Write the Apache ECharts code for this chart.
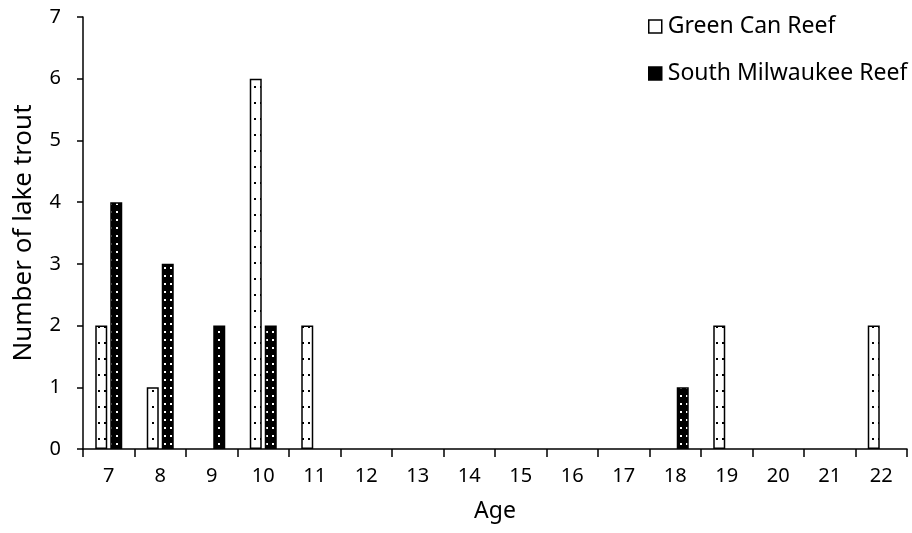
<!DOCTYPE html>
<html>
<head>
<meta charset="utf-8">
<script src="https://cdn.jsdelivr.net/npm/echarts@6/dist/echarts.min.js"></script>
<style>
  html, body { margin: 0; padding: 0; background: #fff; }
  #chart { width: 912px; height: 533px; }
</style>
</head>
<body>
<div id="chart"></div>
<script>
// Lake trout counts by age at two reefs
const ages = ['7', '8', '9', '10', '11', '12', '13', '14', '15', '16', '17', '18', '19', '20', '21', '22'];
const greenCan = [2, 1, 0, 6, 2, 0, 0, 0, 0, 0, 0, 0, 2, 0, 0, 2];
const southMilwaukee = [4, 3, 2, 2, 0, 0, 0, 0, 0, 0, 0, 1, 0, 0, 0, 0];
const seriesNames = ['Green Can Reef', 'South Milwaukee Reef'];

// Empty ages get no bar outline on the baseline
const asBars = arr => arr.map(v => (v === 0 ? '-' : v));

// Dotted fill patterns for the bars
function dotPattern(bg, dot, w, h, dx, dy) {
  const c = document.createElement('canvas');
  c.width = w; c.height = h;
  const ctx = c.getContext('2d');
  ctx.fillStyle = bg;
  ctx.fillRect(0, 0, w, h);
  ctx.fillStyle = dot;
  ctx.fillRect(dx, dy, 2, 2);
  return c;
}
const lightFill = { image: dotPattern('#ffffff', '#000000', 6, 16, 2, 6), repeat: 'repeat' };
const darkFill = { image: dotPattern('#000000', '#ffffff', 6, 8, 2, 3), repeat: 'repeat' };

const font = '"Noto Sans", "Open Sans", sans-serif';
const chart = echarts.init(document.getElementById('chart'), null, { renderer: 'canvas' });

chart.setOption({
  animation: false,
  backgroundColor: '#ffffff',
  textStyle: { fontFamily: font, color: '#000' },
  grid: { left: 83, right: 5, top: 17, bottom: 84, containLabel: false },
  legend: {
    orient: 'vertical',
    left: 648,
    top: 15,
    padding: 0,
    itemGap: 24,
    itemWidth: 13,
    itemHeight: 13,
    icon: 'rect',
    textStyle: { fontFamily: font, fontSize: 23, color: '#000', padding: [0, 0, 0, 1] },
    data: [
      { name: seriesNames[0], itemStyle: { color: '#fff', borderColor: '#000', borderWidth: 1.5 } },
      { name: seriesNames[1], itemStyle: { color: '#000', borderColor: '#000', borderWidth: 1.5 } }
    ]
  },
  xAxis: {
    type: 'category',
    data: ages,
    name: 'Age',
    nameLocation: 'middle',
    nameGap: 51,
    nameTextStyle: { fontFamily: font, fontSize: 23, color: '#000' },
    axisLine: { lineStyle: { color: '#000', width: 1.5 } },
    axisTick: { show: true, inside: false, length: 8, alignWithLabel: false, lineStyle: { color: '#000', width: 1.5 } },
    axisLabel: { fontFamily: font, fontSize: 20, color: '#000', margin: 17 },
    splitLine: { show: false }
  },
  yAxis: {
    type: 'value',
    min: 0,
    max: 7,
    interval: 1,
    name: 'Number of lake trout',
    nameLocation: 'middle',
    nameGap: 46,
    nameTextStyle: { fontFamily: font, fontSize: 26, color: '#000' },
    axisLine: { show: true, lineStyle: { color: '#000', width: 1.5 } },
    axisTick: { show: true, inside: false, length: 6, lineStyle: { color: '#000', width: 1.5 } },
    axisLabel: { fontFamily: font, fontSize: 20, color: '#000', margin: 22 },
    splitLine: { show: false }
  },
  series: [
    {
      name: seriesNames[0],
      type: 'bar',
      data: asBars(greenCan),
      barWidth: 12,
      barGap: '25%',
      itemStyle: { color: lightFill, borderColor: '#000', borderWidth: 1.5 }
    },
    {
      name: seriesNames[1],
      type: 'bar',
      data: asBars(southMilwaukee),
      barWidth: 12,
      barGap: '25%',
      itemStyle: { color: darkFill, borderColor: '#000', borderWidth: 1.5 }
    }
  ]
});
</script>
</body>
</html>
